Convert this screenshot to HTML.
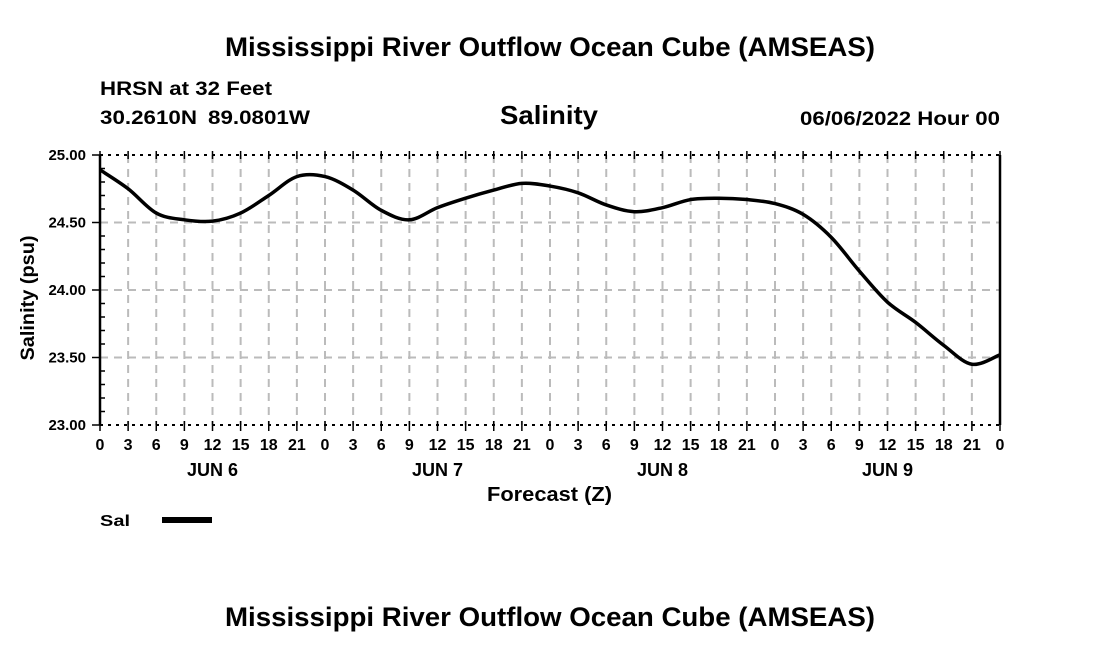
<!DOCTYPE html>
<html><head><meta charset="utf-8"><style>
body{margin:0;background:#fff;}
svg{display:block;font-family:"Liberation Sans",Arial,sans-serif;font-weight:bold;}
</style></head><body>
<svg id="chart" width="1100" height="650" viewBox="0 0 1100 650">
<text x="225" y="56" font-size="27" textLength="650" lengthAdjust="spacingAndGlyphs">Mississippi River Outflow Ocean Cube (AMSEAS)</text>
<text x="100" y="95" font-size="19" textLength="172" lengthAdjust="spacingAndGlyphs">HRSN at 32 Feet</text>
<text x="100" y="124" font-size="19" textLength="97" lengthAdjust="spacingAndGlyphs">30.2610N</text>
<text x="208" y="124" font-size="19" textLength="102" lengthAdjust="spacingAndGlyphs">89.0801W</text>
<text x="500" y="124" font-size="26" textLength="98" lengthAdjust="spacingAndGlyphs">Salinity</text>
<text x="800" y="125" font-size="19" textLength="200" lengthAdjust="spacingAndGlyphs">06/06/2022 Hour 00</text>
<g id="grid"></g><g id="axes"></g><g id="series"></g>
<text x="487" y="501" font-size="20" textLength="125" lengthAdjust="spacingAndGlyphs">Forecast (Z)</text>
<text transform="translate(34,298) rotate(-90)" font-size="19" text-anchor="middle" textLength="125" lengthAdjust="spacingAndGlyphs">Salinity (psu)</text>
<g>
<text x="100" y="526" font-size="16" textLength="30" lengthAdjust="spacingAndGlyphs">Sal</text>
<rect x="162" y="517" width="50" height="6" fill="#000"></rect>
</g>
<text x="225" y="626" font-size="27" textLength="650" lengthAdjust="spacingAndGlyphs">Mississippi River Outflow Ocean Cube (AMSEAS)</text>
</svg>
<script>
const hourLabels=["0","3","6","9","12","15","18","21"];
const dayLabels=["JUN 6","JUN 7","JUN 8","JUN 9"];
const yTicks=[23.00,23.50,24.00,24.50,25.00];
const salinity=[24.89,24.75,24.57,24.52,24.51,24.57,24.70,24.84,24.84,24.74,24.59,24.52,24.61,24.68,24.74,24.79,24.77,24.72,24.63,24.58,24.61,24.67,24.68,24.67,24.64,24.56,24.39,24.14,23.91,23.76,23.59,23.45,23.52];
const NS='http://www.w3.org/2000/svg';
const X0=100,X1=1000,Y0=425,Y1=155,yMin=23,yMax=25,nSteps=32;
const xs=i=>X0+(X1-X0)*i/nSteps;
const ys=v=>Y0-(v-yMin)/(yMax-yMin)*(Y0-Y1);
function mk(tag,at,parent){const e=document.createElementNS(NS,tag);for(const k in at)e.setAttribute(k,at[k]);parent.appendChild(e);return e;}
const grid=document.getElementById('grid'),axes=document.getElementById('axes'),ser=document.getElementById('series');
for(let i=1;i<nSteps;i++){const l=mk('line',{x1:xs(i),x2:xs(i),y1:Y1,y2:Y0,stroke:'#bbb','stroke-width':2,'stroke-dasharray':'8,6'},grid);

}
yTicks.forEach(v=>{if(v>yMin&&v<yMax){const l=mk('line',{x1:X0,x2:X1,y1:ys(v),y2:ys(v),stroke:'#bbb','stroke-width':2,'stroke-dasharray':'8,6'},grid);

}
const t=mk('text',{x:X0-14,y:ys(v)+5,'font-size':15,'text-anchor':'end'},axes);t.textContent=v.toFixed(2);

});
[Y1,Y0].forEach(y=>{const l=mk('line',{x1:X0,x2:X1,y1:y,y2:y,stroke:'#000','stroke-width':2,'stroke-dasharray':'3,5'},axes);

});
[X0,X1].forEach(x=>{const l=mk('line',{x1:x,x2:x,y1:Y1,y2:Y0,stroke:'#000','stroke-width':2.5},axes);

});
for(let v=yMin;v<=yMax+1e-9;v+=0.1){const big=Math.abs(v*2-Math.round(v*2))<1e-6;mk('line',{x1:X0-(big?8:0),x2:X0+(big?0:5),y1:ys(v),y2:ys(v),stroke:'#000','stroke-width':1.5},axes);}
for(let i=0;i<=nSteps;i++){mk('line',{x1:xs(i),x2:xs(i),y1:Y1-4,y2:Y1+4,stroke:'#000','stroke-width':1.5},axes);mk('line',{x1:xs(i),x2:xs(i),y1:Y0-4,y2:Y0+6,stroke:'#000','stroke-width':1.5},axes);
const t=mk('text',{x:xs(i),y:450,'font-size':16,'text-anchor':'middle'},axes);t.textContent=hourLabels[i%8];

}
dayLabels.forEach((d,k)=>{const t=mk('text',{x:xs(k*8+4),y:476,'font-size':18,'text-anchor':'middle'},axes);t.textContent=d;

});
const P=salinity.map((v,i)=>[xs(i),ys(v)]);
let d='M'+P[0][0]+','+P[0][1];
for(let i=0;i<P.length-1;i++){const p0=P[Math.max(i-1,0)],p1=P[i],p2=P[i+1],p3=P[Math.min(i+2,P.length-1)];
d+=` C${p1[0]+(p2[0]-p0[0])/6},${p1[1]+(p2[1]-p0[1])/6} ${p2[0]-(p3[0]-p1[0])/6},${p2[1]-(p3[1]-p1[1])/6} ${p2[0]},${p2[1]}`;}
const line=mk('path',{d:d,fill:'none',stroke:'#000','stroke-width':3.5,'stroke-linejoin':'round'},ser);


</script>
</body></html>
